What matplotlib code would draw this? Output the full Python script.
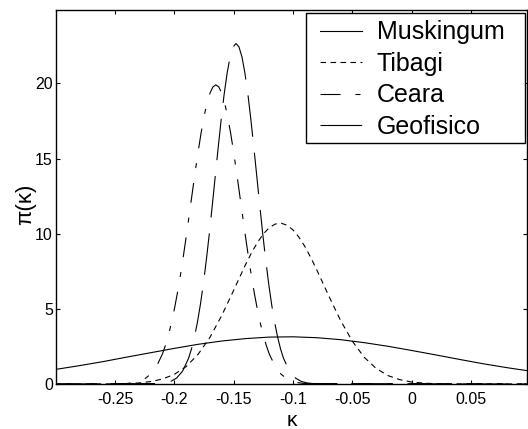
import matplotlib
matplotlib.use("Agg")
import matplotlib.pyplot as plt
from matplotlib.patches import Rectangle

plt.rcParams['font.family'] = ['Liberation Sans', 'DejaVu Sans']
plt.rcParams['lines.scale_dashes'] = False

# ---- data ----
musk_x = [-0.30, -0.28, -0.26, -0.24, -0.22, -0.20, -0.18, -0.16, -0.14, -0.12, -0.10,
          -0.08, -0.06, -0.04, -0.02, 0.00, 0.02, 0.04, 0.06, 0.08, 0.097]
musk_y = [0.97, 1.22, 1.49, 1.79, 2.08, 2.37, 2.64, 2.86, 3.02, 3.12, 3.14,
          3.08, 2.95, 2.75, 2.51, 2.23, 1.94, 1.64, 1.35, 1.09, 0.89]

tib_x = [-0.30, -0.25, -0.24, -0.23, -0.22, -0.21, -0.20, -0.19, -0.18, -0.17, -0.16, -0.15,
         -0.14, -0.135, -0.13, -0.125, -0.12, -0.115, -0.11, -0.105, -0.10, -0.095, -0.09,
         -0.085, -0.08, -0.07, -0.06, -0.05, -0.04,
         -0.03, -0.02, -0.01, 0.00, 0.01, 0.02, 0.097]
tib_y = [0.0, 0.01, 0.03, 0.07, 0.16, 0.33, 0.64, 1.16, 1.97, 3.10, 4.56, 6.23,
         7.94, 8.72, 9.41, 9.98, 10.40, 10.64, 10.70, 10.56, 10.25, 9.77, 9.15,
         8.41, 7.60, 5.89, 4.24, 2.85, 1.78,
         1.04, 0.56, 0.29, 0.13, 0.06, 0.02, 0.0]

cea_x = [-0.30, -0.24, -0.235, -0.23, -0.225, -0.22, -0.215,
         -0.21, -0.2075, -0.205, -0.2025, -0.20, -0.1975, -0.195, -0.1925, -0.19,
         -0.1875, -0.185, -0.1825, -0.18, -0.1775, -0.175, -0.1725, -0.17, -0.1675,
         -0.165, -0.1625, -0.16, -0.1575, -0.155, -0.1525, -0.15, -0.1475, -0.145,
         -0.1425, -0.14, -0.1375, -0.135, -0.1325, -0.13, -0.1275, -0.125, -0.1225, -0.12,
         -0.115, -0.11, -0.105, -0.10, -0.095, -0.09, 0.097]
cea_y = [0.0, 0.03, 0.08, 0.17, 0.34, 0.65, 1.17,
         2.00, 2.57, 3.24, 4.04, 4.96, 6.01, 7.17, 8.44, 9.80,
         11.21, 12.64, 14.06, 15.42, 16.67, 17.77, 18.67, 19.34, 19.76,
         19.90, 19.76, 19.34, 18.67, 17.77, 16.67, 15.42, 14.06, 12.64,
         11.21, 9.80, 8.44, 7.17, 6.01, 4.96, 4.04, 3.24, 2.57, 2.00,
         1.17, 0.65, 0.34, 0.17, 0.08, 0.03, 0.0]

geo_x = [-0.30, -0.213, -0.208, -0.203, -0.198, -0.193,
         -0.188, -0.1855, -0.183, -0.1805, -0.178, -0.1755, -0.173, -0.1705, -0.168,
         -0.1655, -0.163, -0.1605, -0.158, -0.1555, -0.153, -0.1505, -0.148, -0.1455,
         -0.143, -0.1405, -0.138, -0.1355, -0.133, -0.1305, -0.128, -0.1255, -0.123,
         -0.1205, -0.118, -0.1155, -0.113, -0.1105, -0.108,
         -0.103, -0.098, -0.093, -0.088, -0.083, 0.097]
geo_y = [0.0, 0.03, 0.07, 0.17, 0.40, 0.86,
         1.71, 2.34, 3.14, 4.12, 5.30, 6.68, 8.26, 10.00, 11.88,
         13.82, 15.75, 17.60, 19.28, 20.68, 21.76, 22.42, 22.65, 22.42,
         21.76, 20.68, 19.28, 17.60, 15.75, 13.82, 11.88, 10.00, 8.26,
         6.68, 5.30, 4.12, 3.14, 2.34, 1.71,
         0.86, 0.40, 0.17, 0.07, 0.03, 0.0]

series_names = ['Muskingum', 'Tibagi', 'Ceara', 'Geofisico']

xtick_vals = [-0.25, -0.2, -0.15, -0.1, -0.05, 0, 0.05]
xtick_labels = ['-0.25', '-0.2', '-0.15', '-0.1', '-0.05', '0', '0.05']
ytick_vals = [0, 5, 10, 15, 20]
ytick_labels = ['0', '5', '10', '15', '20']

# ---- figure ----
fig = plt.figure(figsize=(5.28, 4.29), dpi=100)
ax = fig.add_axes([56/528, 45/429, 471/528, 374/429])

lw = 0.8
ax.plot(musk_x, musk_y, color='black', lw=lw, ls='-', label=series_names[0])
ax.plot(tib_x, tib_y, color='black', lw=lw, ls=(0, (4.0, 3.2)), label=series_names[1])
ax.plot(cea_x, cea_y, color='black', lw=lw, ls=(0, (14.4, 10.8, 3.6, 10.8)), label=series_names[2])
ax.plot(geo_x, geo_y, color='black', lw=lw, ls=(0, (30.0, 11.5)), label=series_names[3])

ax.set_xlim(-0.2997, 0.0972)
ax.set_ylim(0, 24.88)
ax.set_xticks(xtick_vals)
ax.set_xticklabels(xtick_labels)
ax.set_yticks(ytick_vals)
ax.set_yticklabels(ytick_labels)

ax.tick_params(axis='both', direction='in', length=3, width=0.8,
               top=True, right=True, labelsize=11.5, colors='black')
ax.tick_params(axis='x', pad=5.5)
ax.tick_params(axis='y', pad=2.2)
for s in ax.spines.values():
    s.set_linewidth(1.0)
    s.set_color('black')

ax.set_xlabel('κ', fontsize=15)
ax.xaxis.set_label_coords(0.5, -0.097)
ax.xaxis.label.set_verticalalignment('center')
ax.set_ylabel('π(κ)', fontsize=16)
ax.yaxis.set_label_coords(-0.0637, 0.48)
ax.yaxis.label.set_verticalalignment('center')

# legend box (white, black edge) and entries
box = Rectangle((250/471, 241/374), 219/471, 130/374, transform=ax.transAxes,
                facecolor='white', edgecolor='black', lw=1.0, zorder=4, clip_on=False)
ax.add_patch(box)
leg = ax.legend(loc='center left', bbox_to_anchor=(264/471, (384-79.5)/374),
                borderaxespad=0, borderpad=0, fontsize=18, handlelength=1.67,
                handletextpad=0.6, labelspacing=0.3, frameon=False)
leg.set_zorder(5)

fig.savefig('out.png', dpi=100)
